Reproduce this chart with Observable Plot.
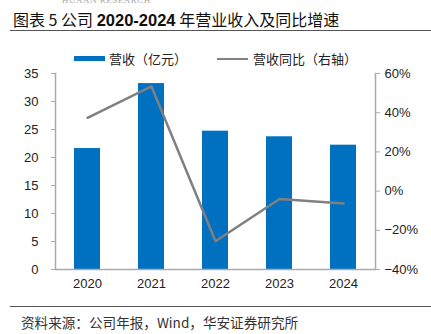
<!DOCTYPE html>
<html><head><meta charset="utf-8">
<script src="https://cdn.jsdelivr.net/npm/d3@7"></script>
<script src="https://cdn.jsdelivr.net/npm/@observablehq/plot@0.6"></script>
<style>
body{margin:0;background:#fff;}
#wrap{position:relative;width:431px;height:334px;overflow:hidden;font-family:"Liberation Sans",Arial,sans-serif;}
#wm{position:absolute;left:62px;top:-5px;font:9px "Liberation Serif",serif;color:#aaa;letter-spacing:0.5px;}
#title{position:absolute;left:13px;top:7px;font-size:16px;color:#111;font-family:"Noto Sans CJK SC",sans-serif;white-space:nowrap;}
#title b{font-family:"Liberation Sans",Arial,sans-serif;font-weight:bold;font-size:16.5px;}
#hr1{position:absolute;left:10px;right:0;top:30px;border-top:1px solid #555;}
#hr2{position:absolute;left:10px;right:0;top:306px;border-top:1px solid #555;}
#src{position:absolute;left:21px;top:312px;font-size:13.6px;color:#333;font-family:"Noto Sans CJK SC",sans-serif;white-space:nowrap;}
#legend{position:absolute;top:49px;left:0;font-size:13px;color:#222;font-family:"Noto Sans CJK SC",sans-serif;white-space:nowrap;z-index:2;}
#plot{position:absolute;left:0;top:60px;z-index:1;}
</style></head><body>
<div id="wrap">
<div id="wm">HUAAN RESEARCH</div>
<div id="title">图表 5 公司 <b>2020-2024</b> 年营业收入及同比增速</div>
<div id="hr1"></div>
<div id="plot"></div>
<div id="legend"></div>
<div id="hr2"></div>
<div id="src">资料来源：公司年报，Wind，华安证券研究所</div>
</div>
<script>
const years = ["2020","2021","2022","2023","2024"];
const revenue = [21.6, 33.2, 24.7, 23.7, 22.2];
const growth = [37.4, 53.4, -25.6, -4.0, -6.3];
const leftTicks = [0,5,10,15,20,25,30,35];
const rightTicks = [-40,-20,0,20,40,60];
const seriesNames = ["营收（亿元）","营收同比（右轴）"];

const barColor = "#0070C0", lineColor = "#808080";
const gMin = -40, gMax = 60, yMax = 35;
const toLeft = g => (g - gMin) / (gMax - gMin) * yMax;

const bars = years.map((y,i)=>({year:y, value:revenue[i]}));
const pts = years.map((y,i)=>({year:y, g:toLeft(growth[i])}));

const chart = Plot.plot({
  width: 431, height: 240,
  marginTop: 13, marginBottom: 31, marginLeft: 55, marginRight: 56,
  style: {fontFamily: '"Liberation Sans",Arial,sans-serif', fontSize: "13px", color: "#222", background: "transparent"},
  x: {domain: years, paddingInner: 0.6, paddingOuter: 0.3, label: null},
  y: {domain: [0, yMax], label: null},
  marks: [
    Plot.barY(bars, {x:"year", y:"value", fill: barColor}),
    Plot.ruleY([0], {stroke:"#aaa", strokeWidth:1.5}),
    Plot.axisX({tickSize:0, tickPadding:9, fontSize:13, label:null}),
    Plot.axisY({ticks: leftTicks, tickSize:4, tickPadding:13, stroke:"#aaa", label:null, fontSize:13}),
    Plot.axisY({anchor:"right", ticks: rightTicks.map(toLeft), tickFormat: d => {const v=Math.round(d/yMax*(gMax-gMin)+gMin); return (v<0?"−"+(-v):v)+"%";}, tickSize:4, tickPadding:5, stroke:"#aaa", label:null, fontSize:13}),
    Plot.frame({anchor:"left", stroke:"#aaa", strokeWidth:1.5}),
    Plot.frame({anchor:"right", stroke:"#aaa", strokeWidth:1.5}),
    Plot.line(pts, {x:"year", y:"g", stroke: lineColor, strokeWidth: 2.5})
  ]
});
document.getElementById("plot").appendChild(chart);

const lg = document.getElementById("legend");
lg.innerHTML = `<span style="position:absolute;left:74px;top:7px;width:31px;height:5px;background:${barColor}"></span>
<span style="position:absolute;left:109px;top:0">${seriesNames[0]}</span>
<span style="position:absolute;left:217px;top:8.5px;width:31px;height:2px;background:${lineColor}"></span>
<span style="position:absolute;left:253px;top:0">${seriesNames[1]}</span>`;
</script>
</body></html>
